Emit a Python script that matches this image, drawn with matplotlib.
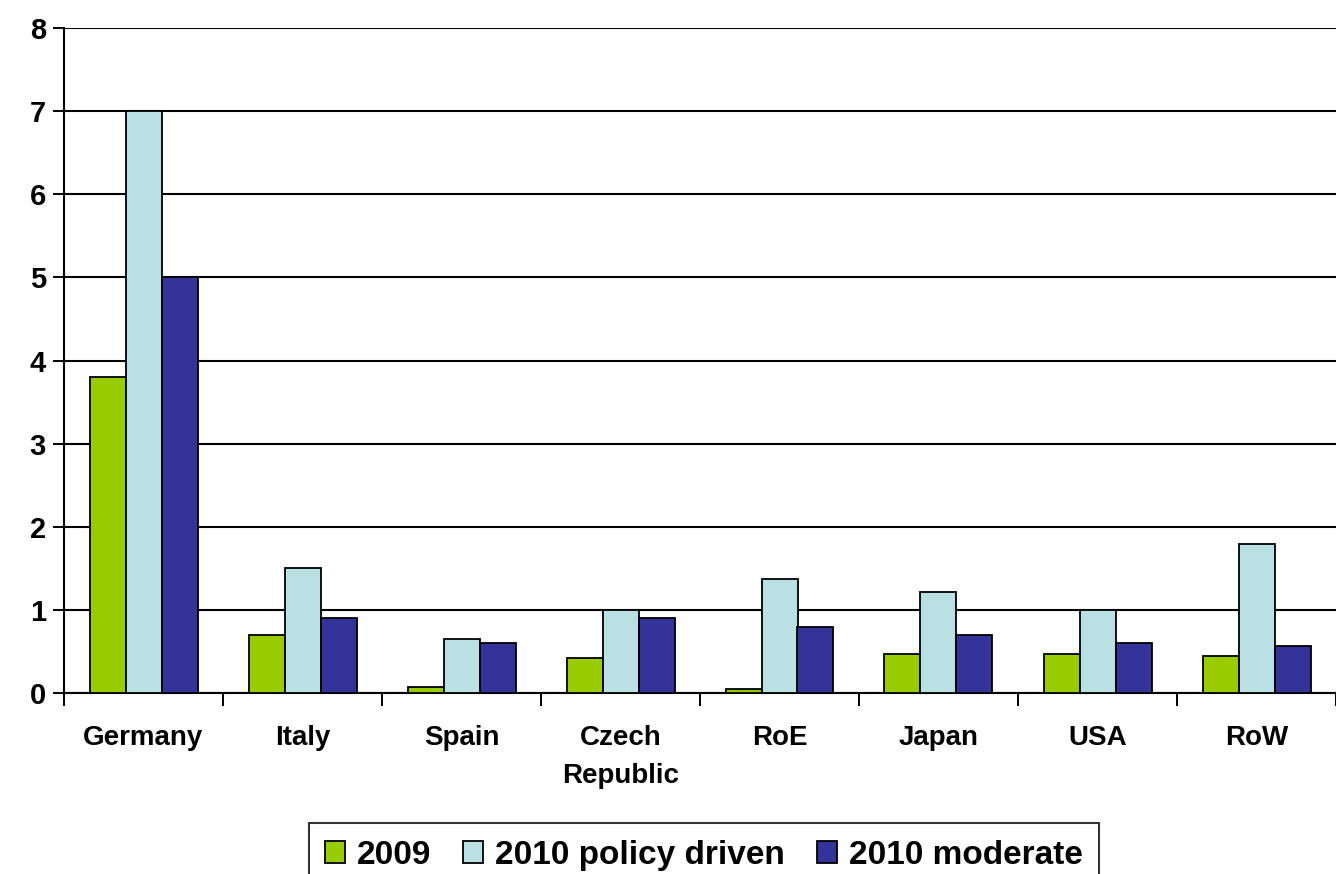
import matplotlib
matplotlib.use("Agg")
import matplotlib.pyplot as plt
import numpy as np

categories = ["Germany", "Italy", "Spain", "Czech\nRepublic", "RoE", "Japan", "USA", "RoW"]
series_names = ["2009", "2010 policy driven", "2010 moderate"]
v2009 = [3.8, 0.7, 0.07, 0.42, 0.05, 0.47, 0.47, 0.44]
v2010_policy = [7.0, 1.5, 0.65, 1.0, 1.37, 1.21, 1.0, 1.79]
v2010_moderate = [5.0, 0.9, 0.6, 0.9, 0.79, 0.7, 0.6, 0.57]
colors = ["#99CC00", "#BBE0E3", "#333399"]
yticks = [0, 1, 2, 3, 4, 5, 6, 7, 8]

plt.rcParams['font.family'] = ['Liberation Sans', 'DejaVu Sans']
plt.rcParams['font.weight'] = 'bold'

fig = plt.figure(figsize=(13.36, 8.74), dpi=100)
ax = fig.add_axes([64/1336, 1-693/874, 1-64/1336, (693-28)/874])

x = np.arange(len(categories))
w = 36/159
for i, (vals, name, c) in enumerate(zip([v2009, v2010_policy, v2010_moderate], series_names, colors)):
    ax.bar(x + (i-1)*w, vals, width=w, color=c, edgecolor='black', linewidth=1.3,
           label=name, zorder=3)

ax.set_xlim(-0.5, len(categories)-0.5)
ax.set_ylim(0, 8)
ax.set_yticks(yticks)
ax.set_yticklabels([str(t) for t in yticks], fontsize=21, fontweight='bold')
ax.yaxis.grid(True, color='black', linewidth=1.5, zorder=0)
ax.set_axisbelow(True)

ax.set_xticks(x)
ax.set_xticklabels(categories, fontsize=20, fontweight='bold', linespacing=1.6)
ax.set_xticks(np.arange(-0.5, len(categories), 1.0), minor=True)
ax.tick_params(axis='x', which='major', length=0, pad=23)
ax.tick_params(axis='x', which='minor', length=9, width=1.4, color='black')
ax.tick_params(axis='y', length=8, width=1.4, pad=5)

for s in ['top', 'right']:
    ax.spines[s].set_visible(False)
for s in ['left', 'bottom']:
    ax.spines[s].set_linewidth(1.5)
    ax.spines[s].set_color('black')

leg = fig.legend(loc='upper center', bbox_to_anchor=(704/1336, 1-823/874), ncol=3,
                 frameon=True, fancybox=False, edgecolor='black',
                 prop={'family': 'Liberation Sans', 'weight': 'bold', 'size': 24},
                 handlelength=0.6, handleheight=0.64, handletextpad=0.36,
                 columnspacing=0.95, borderpad=0.5, borderaxespad=0)
leg.get_frame().set_linewidth(1.5)

fig.savefig("out.png", dpi=100)
